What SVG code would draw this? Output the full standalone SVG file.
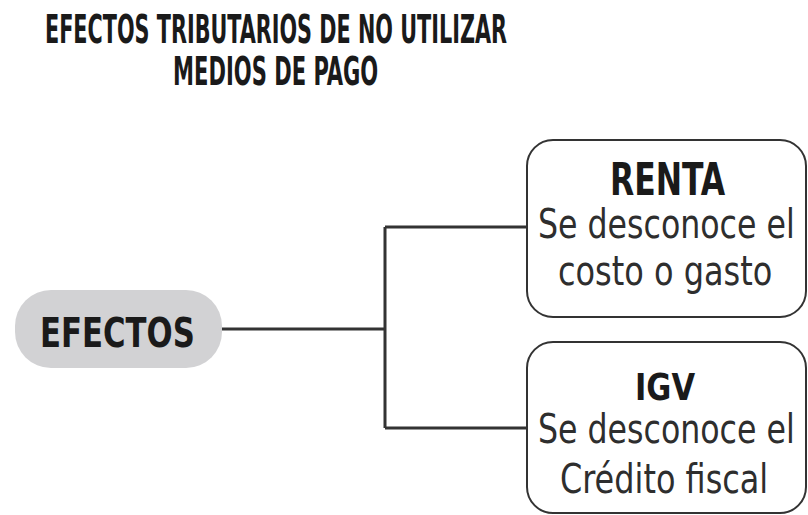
<svg xmlns="http://www.w3.org/2000/svg" width="808" height="515" viewBox="0 0 808 515">
<style>
.t{font-family:"DejaVu Sans Condensed","Liberation Sans",sans-serif;font-weight:bold;fill:#1a1a1a}
.n{font-family:"DejaVu Sans Condensed","Liberation Sans",sans-serif;fill:#2e2e2e}
.box{fill:#ffffff;stroke:#333333;stroke-width:2}
.con{fill:none;stroke:#333333;stroke-width:3}
</style>
<rect width="808" height="515" fill="#ffffff"/>
<g id="title">
<g transform="translate(45,43) scale(0.6,1)"><text class="t" x="0" y="0" font-size="39" textLength="770" lengthAdjust="spacingAndGlyphs">EFECTOS TRIBUTARIOS DE NO UTILIZAR</text></g>
<g transform="translate(173,85) scale(0.6,1)"><text class="t" x="0" y="0" font-size="39" textLength="342" lengthAdjust="spacingAndGlyphs">MEDIOS DE PAGO</text></g>
</g>
<g id="connectors">
<path class="con" d="M222,329 H385 M385,227 V428 M385,227 H527 M385,428 H527"/>
</g>
<g id="efectos">
<rect x="15" y="290" width="207" height="78" rx="36" fill="#d2d2d4"/>
<g transform="translate(40,347) scale(0.6,1)"><text class="t" x="0" y="0" font-size="41" textLength="258" lengthAdjust="spacingAndGlyphs">EFECTOS</text></g>
</g>
<g id="renta">
<rect class="box" x="527" y="140" width="279" height="177" rx="26"/>
<g transform="translate(610,195) scale(0.6,1)"><text class="t" x="0" y="0" font-size="44" textLength="192" lengthAdjust="spacingAndGlyphs">RENTA</text></g>
<g transform="translate(538,238) scale(0.85,1)"><text class="n" x="0" y="0" font-size="41" textLength="302" lengthAdjust="spacingAndGlyphs">Se desconoce el</text></g>
<g transform="translate(558,285) scale(0.85,1)"><text class="n" x="0" y="0" font-size="41" textLength="252" lengthAdjust="spacingAndGlyphs">costo o gasto</text></g>
</g>
<g id="igv">
<rect class="box" x="527" y="342" width="279" height="171" rx="26"/>
<g transform="translate(635,400) scale(0.6,1)"><text class="t" x="0" y="0" font-size="38" textLength="100" lengthAdjust="spacingAndGlyphs">IGV</text></g>
<g transform="translate(538,443) scale(0.85,1)"><text class="n" x="0" y="0" font-size="41" textLength="302" lengthAdjust="spacingAndGlyphs">Se desconoce el</text></g>
<g transform="translate(560,493) scale(0.85,1)"><text class="n" x="0" y="0" font-size="41" textLength="245" lengthAdjust="spacingAndGlyphs">Crédito fiscal</text></g>
</g>
</svg>
